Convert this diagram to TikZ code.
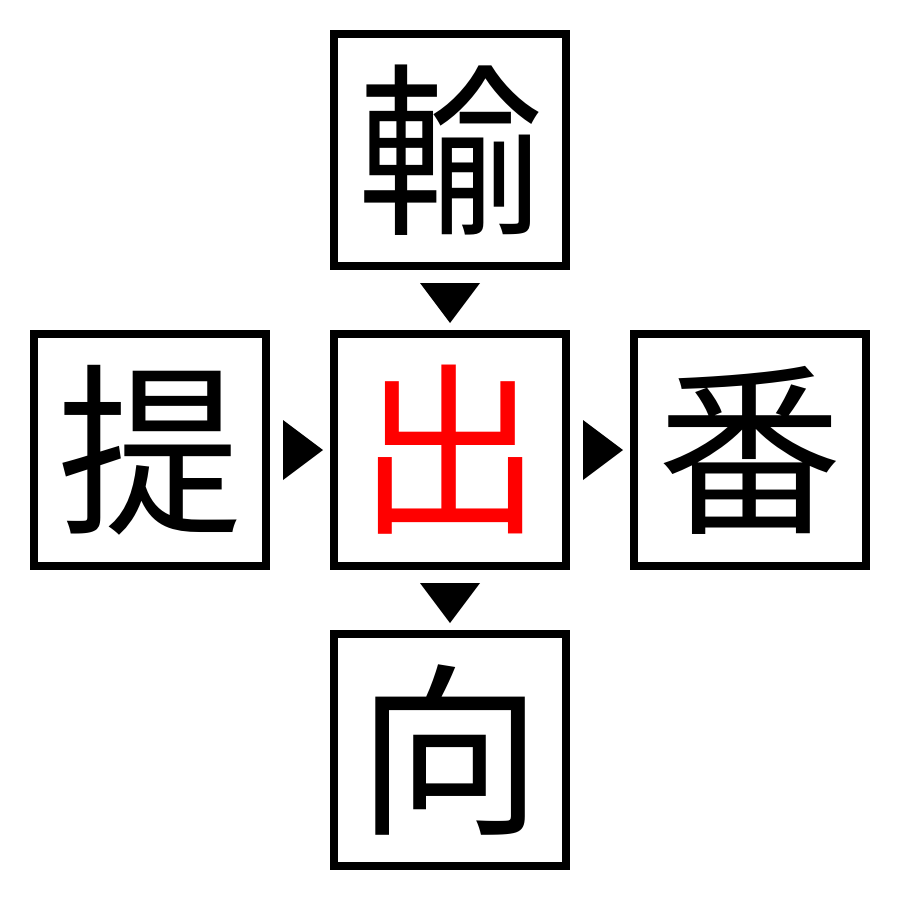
\documentclass[tikz,border=0pt]{standalone}
\usepackage{fontspec}
\newfontfamily\cjk{Noto Sans CJK JP}
\begin{document}
\begin{tikzpicture}[x=1pt,y=-1pt,
  box/.style={draw=black,line width=8pt,minimum size=232pt,inner sep=0pt,font=\cjk\fontsize{185}{185}\selectfont},
  tri/.style={fill=black}]
\useasboundingbox (0,0) rectangle (900,900);
\node[box] (t) at (450,150) {輸};
\node[box] (l) at (150,450) {提};
\node[box,text=red] (c) at (450,450) {出};
\node[box] (r) at (750,450) {番};
\node[box] (b) at (450,750) {向};
\fill (420,283) -- (480,283) -- (450,323) -- cycle;
\fill (420,583) -- (480,583) -- (450,623) -- cycle;
\fill (283,420) -- (283,480) -- (323,450) -- cycle;
\fill (583,420) -- (583,480) -- (623,450) -- cycle;
\end{tikzpicture}
\end{document}
